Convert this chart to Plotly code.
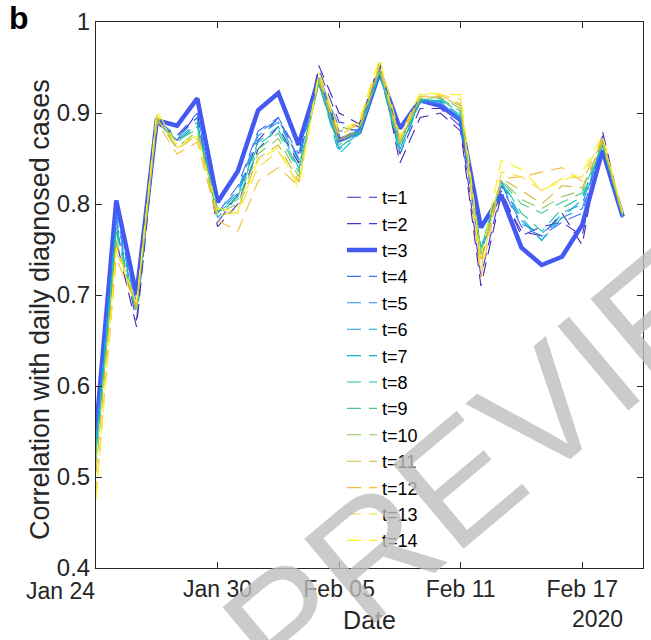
import plotly.graph_objects as go
import pandas as pd

dates = pd.date_range("2020-01-24", "2020-02-19", freq="D")

t1 = [0.530,0.760,0.665,0.888,0.875,0.895,0.775,0.800,0.860,0.885,0.845,0.952,0.900,0.888,0.955,0.845,0.895,0.900,0.880,0.710,0.810,0.770,0.765,0.790,0.755,0.880,0.785]
t2 = [0.540,0.775,0.672,0.890,0.870,0.900,0.780,0.810,0.870,0.895,0.850,0.948,0.890,0.885,0.950,0.855,0.905,0.905,0.885,0.720,0.815,0.765,0.775,0.780,0.765,0.875,0.785]
t3 = [0.550,0.804,0.700,0.892,0.886,0.916,0.802,0.836,0.903,0.922,0.865,0.938,0.870,0.879,0.945,0.883,0.914,0.908,0.892,0.774,0.810,0.752,0.733,0.742,0.777,0.859,0.786]
t4 = [0.545,0.790,0.690,0.892,0.875,0.900,0.790,0.820,0.880,0.895,0.855,0.940,0.880,0.882,0.948,0.870,0.912,0.910,0.890,0.740,0.820,0.775,0.765,0.780,0.790,0.870,0.785]
t5 = [0.540,0.785,0.688,0.890,0.872,0.895,0.792,0.815,0.878,0.893,0.850,0.937,0.885,0.880,0.946,0.865,0.912,0.912,0.893,0.745,0.822,0.778,0.768,0.785,0.795,0.868,0.786]
t6 = [0.537,0.780,0.685,0.890,0.870,0.890,0.790,0.812,0.875,0.890,0.848,0.935,0.860,0.878,0.945,0.860,0.913,0.913,0.895,0.748,0.823,0.782,0.760,0.790,0.800,0.866,0.786]
t7 = [0.535,0.775,0.683,0.890,0.868,0.888,0.785,0.810,0.868,0.885,0.840,0.933,0.855,0.877,0.944,0.855,0.913,0.914,0.897,0.750,0.825,0.785,0.760,0.785,0.805,0.865,0.785]
t8 = [0.530,0.770,0.680,0.891,0.868,0.885,0.790,0.808,0.865,0.882,0.838,0.932,0.862,0.878,0.944,0.860,0.914,0.915,0.900,0.752,0.826,0.790,0.770,0.795,0.808,0.864,0.785]
t9 = [0.525,0.768,0.682,0.892,0.870,0.882,0.795,0.805,0.860,0.878,0.835,0.935,0.865,0.880,0.946,0.865,0.915,0.916,0.902,0.750,0.826,0.800,0.790,0.802,0.812,0.866,0.786]
t10 = [0.515,0.760,0.684,0.893,0.862,0.880,0.790,0.800,0.855,0.872,0.830,0.936,0.868,0.882,0.948,0.866,0.916,0.917,0.905,0.745,0.827,0.805,0.795,0.808,0.815,0.867,0.787]
t11 = [0.505,0.755,0.686,0.895,0.860,0.876,0.785,0.795,0.850,0.865,0.825,0.938,0.870,0.885,0.950,0.868,0.917,0.918,0.908,0.735,0.828,0.815,0.800,0.820,0.818,0.868,0.788]
t12 = [0.480,0.740,0.688,0.890,0.855,0.868,0.782,0.770,0.825,0.840,0.820,0.940,0.875,0.888,0.952,0.870,0.918,0.919,0.910,0.720,0.828,0.830,0.835,0.840,0.825,0.870,0.789]
t13 = [0.480,0.748,0.690,0.898,0.862,0.872,0.790,0.790,0.840,0.858,0.822,0.942,0.877,0.890,0.955,0.872,0.920,0.920,0.915,0.728,0.835,0.830,0.815,0.828,0.830,0.872,0.790]
t14 = [0.475,0.752,0.692,0.902,0.865,0.875,0.795,0.792,0.848,0.862,0.818,0.945,0.880,0.892,0.960,0.875,0.922,0.921,0.920,0.740,0.848,0.838,0.815,0.825,0.835,0.875,0.790]

series = [t1, t2, t3, t4, t5, t6, t7, t8, t9, t10, t11, t12, t13, t14]
labels = [f"t={i}" for i in range(1, 15)]

# parula-like palette
colors = ["#3D2AAA", "#4735D8", "#4458F2", "#3F73F9", "#2D8CEF", "#1C9FE0",
          "#0AB5CC", "#1BC2A8", "#48C98A", "#8CC75B", "#CDBA36", "#F4BE3A",
          "#F6D92E", "#F7F511"]

x_ticks = ["2020-01-30", "2020-02-05", "2020-02-11", "2020-02-17"]
x_ticklabels = ["Jan 30", "Feb 05", "Feb 11", "Feb 17"]
first_date_label = "Jan 24"
y_ticks = [0.4, 0.5, 0.6, 0.7, 0.8, 0.9, 1.0]
y_ticklabels = ["0.4", "0.5", "0.6", "0.7", "0.8", "0.9", "1"]
y_title = "Correlation with daily diagnosed cases"

FONT = "Liberation Sans, Arial, sans-serif"
AX = "#262626"

fig = go.Figure()
for i, (vals, lab, col) in enumerate(zip(series, labels, colors)):
    thick = (i == 2)
    fig.add_trace(go.Scatter(
        x=dates, y=vals, name=lab, mode="lines",
        line=dict(color=col, width=4.5 if thick else 1.1,
                  dash="solid" if thick else "14px,8px"),
    ))

fig.update_layout(
    width=651, height=640,
    margin=dict(l=96, r=8, t=22, b=72),
    paper_bgcolor="white", plot_bgcolor="white",
    font=dict(family=FONT, size=22, color=AX),
    showlegend=True,
    legend=dict(
        x=(342 - 96) / 547, y=1 - (179 - 22) / 546,
        xanchor="left", yanchor="top",
        bgcolor="rgba(0,0,0,0)", borderwidth=0,
        font=dict(family=FONT, size=18, color="black"),
        traceorder="normal", itemwidth=30,
    ),
    xaxis=dict(
        type="date", range=["2020-01-24", "2020-02-20"],
        tickvals=["2020-01-24"] + x_ticks, ticktext=[""] + x_ticklabels,
        ticks="inside", ticklen=6, tickcolor=AX,
        showline=True, linecolor=AX, linewidth=1, mirror="ticks",
        showgrid=False, zeroline=False,
        title=dict(text="Date", font=dict(size=25, color=AX), standoff=10),
        tickfont=dict(size=23, color=AX),
    ),
    yaxis=dict(
        range=[0.4, 1.0], tickvals=y_ticks, ticktext=y_ticklabels,
        ticks="inside", ticklen=6, tickcolor=AX,
        showline=True, linecolor=AX, linewidth=1, mirror="ticks",
        showgrid=False, zeroline=False,
        tickfont=dict(size=24, color=AX),
    ),
)

fig.add_annotation(text=y_title, xref="paper", yref="paper",
                   x=(40 - 96) / 547, y=1 - (310 - 22) / 546,
                   xanchor="center", yanchor="middle", showarrow=False,
                   textangle=-90,
                   font=dict(family=FONT, size=27, color=AX))
fig.add_annotation(text=first_date_label, xref="paper", yref="paper",
                   x=(60 - 96) / 547, y=1 - (591 - 22) / 546,
                   xanchor="center", yanchor="middle", showarrow=False,
                   font=dict(family=FONT, size=23, color=AX))
fig.add_annotation(text="<b>b</b>", xref="paper", yref="paper",
                   x=(7 - 96) / 547, y=1 - (18 - 22) / 546,
                   xanchor="left", yanchor="middle", showarrow=False,
                   font=dict(family=FONT, size=32, color="black"))
fig.add_annotation(text="2020", xref="paper", yref="paper",
                   x=(597 - 96) / 547, y=1 - (619 - 22) / 546,
                   xanchor="center", yanchor="middle", showarrow=False,
                   font=dict(family=FONT, size=23, color=AX))
fig.add_annotation(text="PREVIEW", xref="paper", yref="paper",
                   x=(530 - 96) / 547, y=1 - (420 - 22) / 546,
                   xanchor="center", yanchor="middle", showarrow=False,
                   textangle=-40,
                   font=dict(family=FONT, size=160, color="rgba(190,190,190,0.8)"))

fig.write_html("out.html")
